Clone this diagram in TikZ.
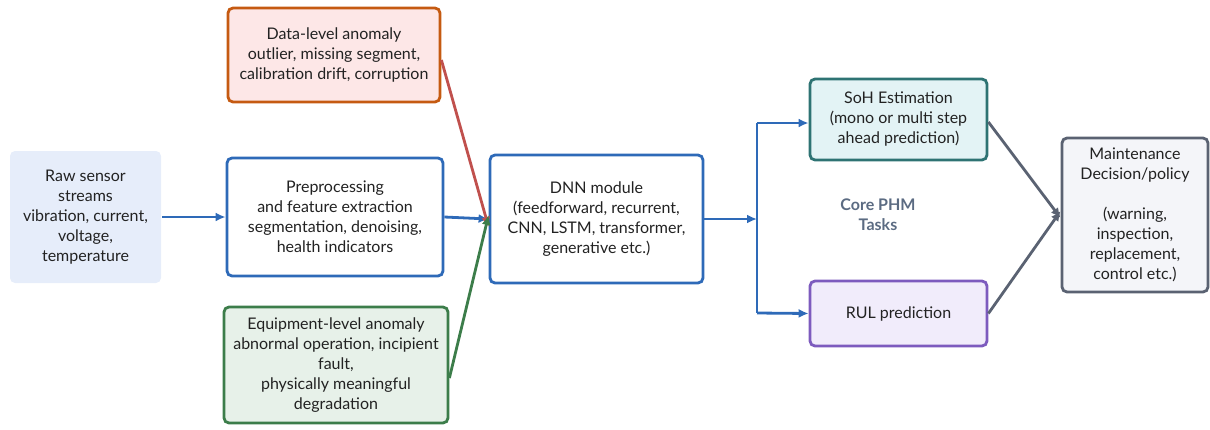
\documentclass[tikz,border=0pt]{standalone}
\usepackage{fontspec}
\setmainfont{Lato}
\usetikzlibrary{arrows.meta}
\definecolor{blueln}{HTML}{2E6AB8}
\definecolor{rawfill}{HTML}{E6EDFA}
\definecolor{orgln}{HTML}{C55A11}
\definecolor{orgfill}{HTML}{FDE7E7}
\definecolor{redarr}{HTML}{C0504D}
\definecolor{grnln}{HTML}{3C7D4A}
\definecolor{grnfill}{HTML}{E7F1E9}
\definecolor{tealln}{HTML}{2E7373}
\definecolor{tealfill}{HTML}{E3F3F5}
\definecolor{purln}{HTML}{7D5BBE}
\definecolor{purfill}{HTML}{F1ECFB}
\definecolor{greyln}{HTML}{5A6272}
\definecolor{greyfill}{HTML}{F4F5F9}
\definecolor{txt}{HTML}{222222}
\definecolor{coretxt}{HTML}{5B6B82}
\tikzset{
  box/.style={rounded corners=5pt, line width=2.8pt, align=center, text=txt,
    font=\fontsize{16}{20}\selectfont, inner sep=0pt},
  conn/.style={line width=2.8pt, -{Latex[length=10pt,width=9pt]}},
}
\begin{document}
\begin{tikzpicture}[x=1pt,y=-1pt]
\useasboundingbox (0,0) rectangle (1210,429);
% boxes
\node[box, fill=rawfill, draw=none, minimum width=151pt, minimum height=132pt] (raw) at (85.5,217)
  {Raw sensor\\streams\\vibration, current,\\voltage,\\temperature};
\node[box, draw=blueln, fill=white, minimum width=216pt, minimum height=118pt] (pre) at (335,217)
  {Preprocessing\\and feature extraction\\segmentation, denoising,\\health indicators};
\node[box, draw=orgln, fill=orgfill, minimum width=212pt, minimum height=94pt] (data) at (334,55)
  {Data-level anomaly\\outlier, missing segment,\\calibration drift, corruption};
\node[box, draw=grnln, fill=grnfill, minimum width=224pt, minimum height=116pt] (equip) at (336,365)
  {Equipment-level anomaly\\abnormal operation, incipient\\fault,\\physically meaningful\\degradation};
\node[box, draw=blueln, fill=white, minimum width=213pt, minimum height=128pt] (dnn) at (596.5,219)
  {DNN module\\(feedforward, recurrent,\\CNN, LSTM, transformer,\\generative etc.)};
\node[box, draw=tealln, fill=tealfill, minimum width=177pt, minimum height=81pt] (soh) at (898.5,119.5)
  {SoH Estimation\\(mono or multi step\\ahead prediction)};
\node[box, draw=purln, fill=purfill, minimum width=177pt, minimum height=65pt] (rul) at (898.5,313.5)
  {RUL prediction};
\node[box, draw=greyln, fill=greyfill, minimum width=146pt, minimum height=154pt] (mnt) at (1135,215)
  {Maintenance\\Decision/policy\\[20pt](warning,\\inspection,\\replacement,\\control etc.)};
\node[align=center, text=coretxt, font=\fontsize{16}{20}\selectfont\bfseries] (core) at (878,215)
  {Core PHM\\Tasks};
% coordinates
\coordinate (split) at (757,219);
\coordinate (stop) at (757,123);
\coordinate (sbot) at (757,313);
% connectors
\draw[conn, blueln] (raw.east) -- (pre.west);
\draw[conn, blueln] (pre.east) -- (dnn.west);
\draw[conn, redarr] (data.east |- 0,60) -- ([yshift=-8pt]dnn.west);
\draw[conn, grnln] (equip.east |- 0,378) -- ([yshift=4pt]dnn.west);
\draw[conn, blueln] (dnn.east |- split) -- (split);
\draw[line width=2.8pt, blueln] (stop) -- (sbot);
\draw[conn, blueln] (stop) -- (soh.west |- stop);
\draw[conn, blueln] (sbot) -- (rul.west);
\draw[conn, greyln] (soh.east |- 0,122) -- ([yshift=-3pt]mnt.west);
\draw[conn, greyln] (rul.east) -- ([yshift=4pt]mnt.west);
\end{tikzpicture}
\end{document}
